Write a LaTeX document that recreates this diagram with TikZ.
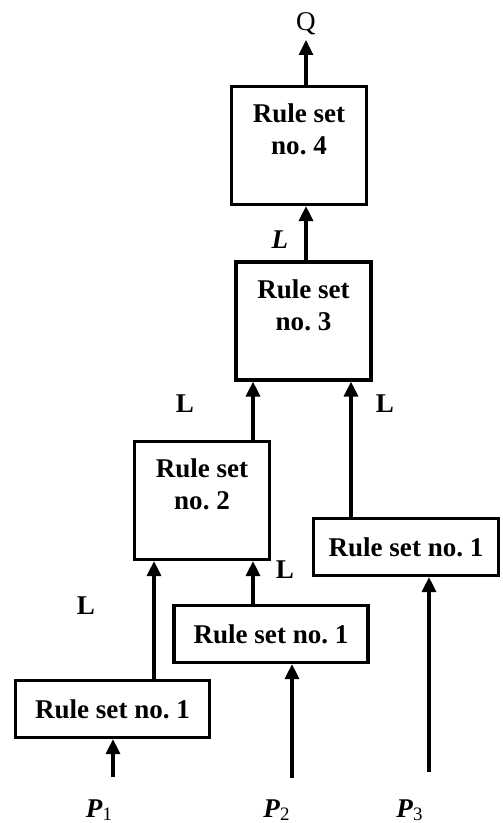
\documentclass[tikz,border=0pt]{standalone}
\usepackage{fontspec}
\setmainfont{Liberation Serif}
\usetikzlibrary{arrows.meta}
\tikzset{every path/.style={line width=1.8pt}}
\newcommand{\rsize}{\fontsize{15.4pt}{18.2pt}\selectfont\frenchspacing}
\tikzset{
  rbox/.style={draw, line width=1.8pt, font=\rsize\bfseries, align=center, inner sep=0pt},
  tallbox/.style={rbox, minimum width=2.7cm, minimum height=2.36cm},
  widebox/.style={rbox, minimum width=3.88cm, minimum height=1.14cm},
  lbl/.style={font=\rsize\bfseries},
  arr/.style={line width=1.8pt, -{Triangle[length=0.3cm,width=0.28cm]}}
}
\newcommand{\inp}[1]{\textbf{\textit{P}}\textsubscript{#1}}

\begin{document}
\begin{tikzpicture}[font=\rsize]
\useasboundingbox (0,0) rectangle (10.04,16.46);

% rule sets
\node[tallbox] (r4) at (5.98,13.55) {Rule set\\no. 4\\\mbox{}};
\node[tallbox] (r3) at (6.07,10.04) {Rule set\\no. 3\\\mbox{}};
\node[tallbox] (r2) at (4.04,6.45) {Rule set\\no. 2\\\mbox{}};
\node[widebox, minimum width=3.7cm] (r1c) at (8.12,5.52) {Rule set no. 1};
\node[widebox] (r1b) at (5.42,3.78) {Rule set no. 1};
\node[widebox] (r1a) at (2.25,2.28) {Rule set no. 1};

% output and inputs
\node[anchor=south, inner sep=0.08cm] (q) at (6.12,15.66) {Q};
\node[anchor=base] (p1) at (1.99,0.12) {\inp{1}};
\node[anchor=base] (p2) at (5.54,0.12) {\inp{2}};
\node[anchor=base] (p3) at (8.2,0.12) {\inp{3}};
\coordinate (in1) at (2.26,0.92);
\coordinate (in2) at (5.84,0.90);
\coordinate (in3) at (8.58,1.02);

% arrow columns
\coordinate (ca) at (3.08,0);
\coordinate (cb) at (5.06,0);
\coordinate (cc) at (7.02,0);

% L labels
\node[font=\rsize\bfseries\itshape] (l4) at (5.6,11.66) {L};
\node[lbl] (l3a) at (3.7,8.38) {L};
\node[lbl] (l3b) at (7.7,8.38) {L};
\node[lbl] (l2b) at (5.7,5.06) {L};
\node[lbl] (l2a) at (1.72,4.34) {L};

\draw[arr] (in1) -- (in1 |- r1a.south);
\draw[arr] (in2) -- (in2 |- r1b.south);
\draw[arr] (in3) -- (in3 |- r1c.south);
\draw[arr] (r1a.north -| ca) -- (r2.south -| ca);
\draw[arr] (r1b.north -| cb) -- (r2.south -| cb);
\draw[arr] (r2.north -| cb) -- (r3.south -| cb);
\draw[arr] (r1c.north -| cc) -- (r3.south -| cc);
\draw[arr] (r3.north -| q) -- (r4.south -| q);
\draw[arr] (r4.north -| q) -- (q.south);
\end{tikzpicture}
\end{document}
